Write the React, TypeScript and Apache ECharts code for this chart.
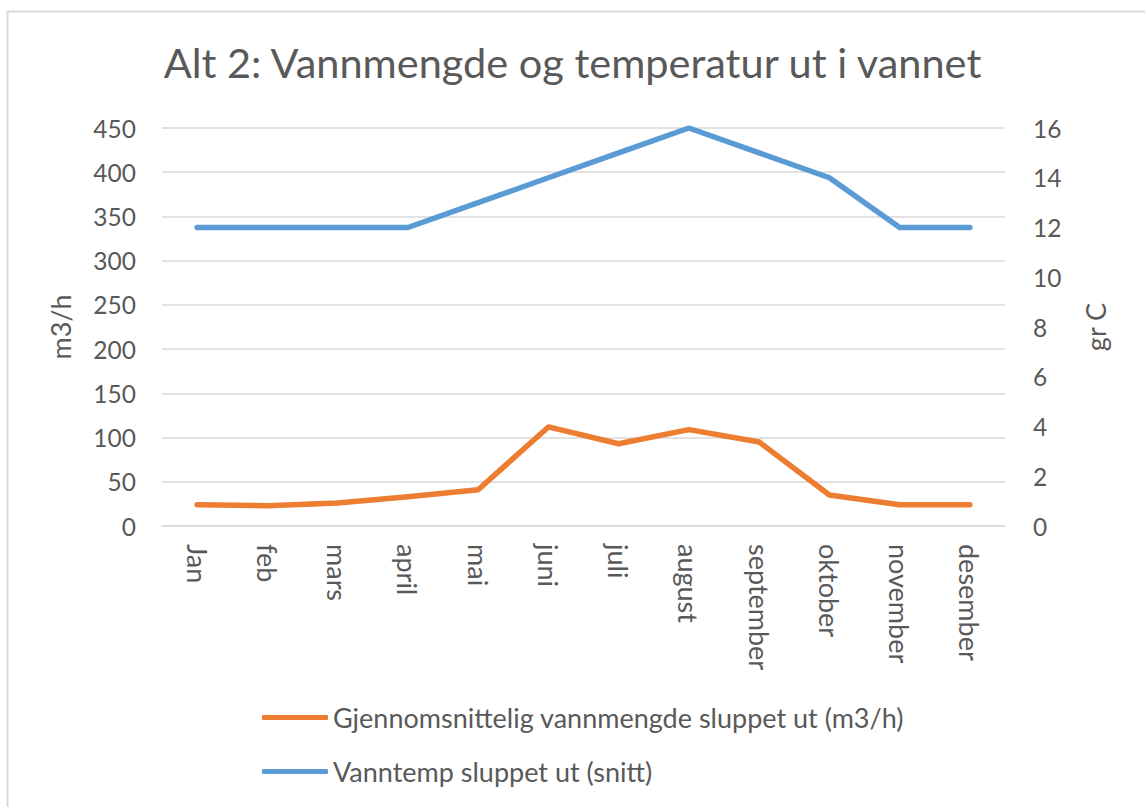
import React, { useEffect, useRef } from "react";
import * as echarts from "echarts";

const TITLE = "Alt 2: Vannmengde og temperatur ut i vannet";
const categories = ["Jan", "feb", "mars", "april", "mai", "juni", "juli", "august", "september", "oktober", "november", "desember"];
const flowName = "Gjennomsnittelig vannmengde sluppet ut (m3/h)";
const flowValues = [24, 23, 26, 33, 41, 112, 93, 109, 95, 35, 24, 24];
const tempName = "Vanntemp sluppet ut (snitt)";
const tempValues = [12, 12, 12, 12, 13, 14, 15, 16, 15, 14, 12, 12];

const FONT = "Lato";
const TXT = "#595959";
const GRID = "#d9d9d9";

export default function App() {
  const ref = useRef<HTMLDivElement>(null);
  useEffect(() => {
    if (!ref.current) return;
    const chart = echarts.init(ref.current, null, { renderer: "svg" });
    chart.setOption({
      animation: false,
      backgroundColor: "#ffffff",
      textStyle: { fontFamily: FONT, color: TXT },
      title: {
        text: TITLE,
        left: "center",
        top: 36,
        textStyle: { fontFamily: FONT, fontSize: 41.5, fontWeight: "normal", color: TXT },
      },
      graphic: [
        {
          type: "rect",
          left: 5,
          top: 9,
          shape: { width: 1160, height: 820 },
          style: { fill: "none", stroke: GRID, lineWidth: 2 },
          silent: true,
        },
      ],
      grid: { left: 162, right: 140, top: 128, bottom: 281, containLabel: false },
      legend: {
        orient: "vertical",
        left: 262,
        top: 704,
        padding: 0,
        itemWidth: 66,
        itemHeight: 5,
        itemGap: 27,
        icon: "roundRect",
        textStyle: { fontFamily: FONT, fontSize: 27, color: TXT },
        data: [flowName, tempName],
      },
      xAxis: {
        type: "category",
        data: categories,
        boundaryGap: true,
        axisLine: { show: true, lineStyle: { color: GRID, width: 1.5 } },
        axisTick: { show: false },
        axisLabel: { rotate: -90, margin: 18, fontFamily: FONT, fontSize: 27, color: TXT, interval: 0 },
      },
      yAxis: [
        {
          type: "value",
          min: 0,
          max: 450,
          interval: 50,
          name: "m3/h",
          nameLocation: "middle",
          nameRotate: 90,
          nameGap: 88,
          nameTextStyle: { fontFamily: FONT, fontSize: 27, color: TXT },
          axisLine: { show: false },
          axisTick: { show: false },
          axisLabel: { margin: 26, fontFamily: FONT, fontSize: 24.5, color: TXT },
          splitLine: { lineStyle: { color: GRID, width: 1.5 } },
        },
        {
          type: "value",
          min: 0,
          max: 16,
          interval: 2,
          name: "gr C",
          nameLocation: "middle",
          nameRotate: 90,
          nameGap: 77,
          nameTextStyle: { fontFamily: FONT, fontSize: 27, color: TXT },
          axisLine: { show: false },
          axisTick: { show: false },
          axisLabel: { margin: 28, fontFamily: FONT, fontSize: 24.5, color: TXT },
          splitLine: { show: false },
        },
      ],
      series: [
        {
          name: flowName,
          type: "line",
          yAxisIndex: 0,
          data: flowValues,
          showSymbol: false,
          symbol: "none",
          itemStyle: { color: "#ED7D31" },
          lineStyle: { color: "#ED7D31", width: 5.5, cap: "round", join: "round" },
        },
        {
          name: tempName,
          type: "line",
          yAxisIndex: 1,
          data: tempValues,
          showSymbol: false,
          symbol: "none",
          itemStyle: { color: "#5B9BD5" },
          lineStyle: { color: "#5B9BD5", width: 5.5, cap: "round", join: "round" },
        },
      ],
    });
    return () => chart.dispose();
  }, []);
  return (
    <div
      ref={ref}
      style={{ position: "fixed", left: 0, top: 0, width: 1145, height: 807 }}
    />
  );
}
